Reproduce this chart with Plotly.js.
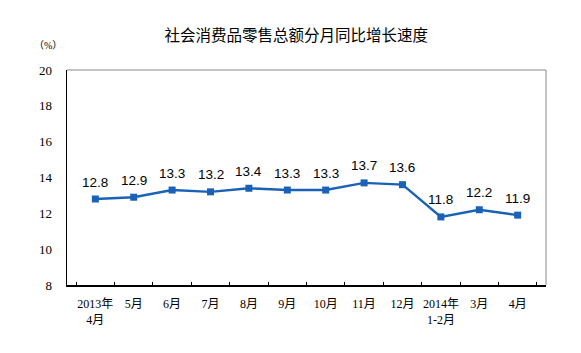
<!DOCTYPE html>
<html><head><meta charset="utf-8">
<script src="https://cdn.plot.ly/plotly-3.0.1.min.js"></script>
<style>body{margin:0;background:#fff}</style>
</head><body>
<div id="chart" style="width:581px;height:353px"></div>
<script>
const categories = ["2013年<br>4月","5月","6月","7月","8月","9月","10月","11月","12月","2014年<br>1-2月","3月","4月"];
const growth = [12.8,12.9,13.3,13.2,13.4,13.3,13.3,13.7,13.6,11.8,12.2,11.9];
const yTicks = [8,10,12,14,16,18,20];

const serif = "'Liberation Serif','Times New Roman','Noto Sans CJK SC',serif";
const lineColor = "#1a62b8";

const annotations = categories.map((c,i)=>({
  x: c, y: growth[i], xref:'x', yref:'y', text: growth[i].toFixed(1),
  showarrow:false, yshift:17, font:{family:"'Liberation Sans',Arial,sans-serif", size:13.5, color:'#000'}
}));
annotations.push({xref:'paper', yref:'paper', x:-0.04, y:1.116, xanchor:'center', yanchor:'middle',
  text:'（%）', showarrow:false, font:{family:serif, size:10, color:'#000'}});

const trace = {
  x: categories, y: growth, type:'scatter', mode:'lines+markers',
  line:{color:lineColor, width:2.4},
  marker:{symbol:'square', size:7, color:lineColor},
  hoverinfo:'skip'
};

const layout = {
  width:581, height:353,
  margin:{l:67, r:35, t:70, b:68},
  paper_bgcolor:'#fff', plot_bgcolor:'#fff',
  showlegend:false,
  title:{text:'社会消费品零售总额分月同比增长速度', x:0.51, xref:'container', y:0.9, yref:'container', yanchor:'middle',
    font:{family:"'Noto Sans CJK SC',sans-serif", size:15.5, color:'#000'}},
  xaxis:{type:'category', tickson:'boundaries', ticks:'inside', ticklen:3, tickcolor:'#000',
    showline:true, linecolor:'#000', linewidth:1.5, showgrid:false, zeroline:false,
    mirror:false, tickangle:0, ticklabelstandoff:7,
    tickfont:{family:serif, size:12, color:'#000'}, fixedrange:true},
  yaxis:{range:[8,20], tickvals:yTicks, ticktext:yTicks.map(String), ticks:'', showgrid:false, zeroline:false,
    showline:true, linecolor:'#000', linewidth:1.5,
    tickfont:{family:serif, size:13, color:'#000'}, ticklabelstandoff:11, fixedrange:true},
  shapes:[
    {type:'line', xref:'paper', yref:'paper', x0:0, x1:1, y0:1, y1:1, line:{color:'#888', width:1}},
    {type:'line', xref:'paper', yref:'paper', x0:1, x1:1, y0:0, y1:1, line:{color:'#888', width:1}}
  ],
  annotations: annotations
};
Plotly.newPlot('chart',[trace],layout,{staticPlot:true});
</script>
</body></html>
